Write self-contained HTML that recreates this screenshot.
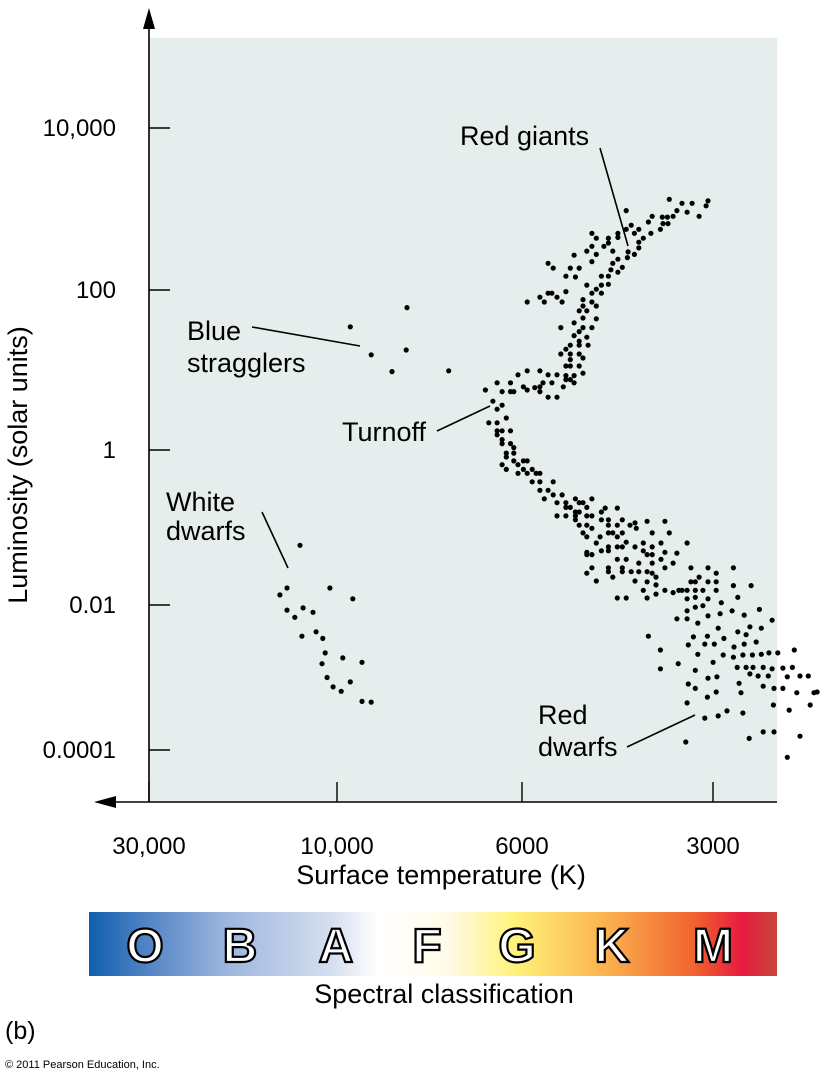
<!DOCTYPE html>
<html><head><meta charset="utf-8">
<style>
html,body{margin:0;padding:0;background:#fff;}
svg{display:block;font-family:"Liberation Sans",Arial,sans-serif;}
</style></head>
<body>
<svg id="chart" width="826" height="1080" viewBox="0 0 826 1080" xmlns="http://www.w3.org/2000/svg">
<defs>
<linearGradient id="specg" x1="0" x2="1" y1="0" y2="0">
<stop offset="0" stop-color="#0f5fae"/>
<stop offset="0.08" stop-color="#4f82c4"/>
<stop offset="0.2" stop-color="#9db6de"/>
<stop offset="0.35" stop-color="#d4deef"/>
<stop offset="0.42" stop-color="#ffffff"/>
<stop offset="0.52" stop-color="#fffbe8"/>
<stop offset="0.62" stop-color="#fff27a"/>
<stop offset="0.75" stop-color="#fbb24f"/>
<stop offset="0.88" stop-color="#f0632f"/>
<stop offset="0.95" stop-color="#e61a40"/>
<stop offset="1" stop-color="#c8473b"/>
</linearGradient>
</defs>
<rect x="149" y="38" width="628" height="764" fill="#e6eeed"/>
<g id="dots"></g>
<g id="axes"></g>

<text transform="translate(27,465) rotate(-90)" text-anchor="middle" font-size="27">Luminosity (solar units)</text>
<text x="441" y="884" text-anchor="middle" font-size="27">Surface temperature (K)</text>

<g>
<text x="460" y="145" font-size="27">Red giants</text>
<line x1="600" y1="148" x2="628" y2="246" stroke="#000" stroke-width="1.6"/>
</g>
<g>
<text x="187" y="340" font-size="27">Blue</text>
<text x="187" y="372" font-size="27">stragglers</text>
<line x1="252" y1="327" x2="360" y2="346" stroke="#000" stroke-width="1.6"/>
</g>
<g>
<text x="342" y="441" font-size="27">Turnoff</text>
<line x1="437" y1="431" x2="490" y2="406" stroke="#000" stroke-width="1.6"/>
</g>
<g>
<text x="166" y="511" font-size="27">White</text>
<text x="166" y="540" font-size="27">dwarfs</text>
<line x1="262" y1="512" x2="288" y2="568" stroke="#000" stroke-width="1.6"/>
</g>
<g>
<text x="538" y="724" font-size="27">Red</text>
<text x="538" y="756" font-size="27">dwarfs</text>
<line x1="627" y1="747" x2="695" y2="715" stroke="#000" stroke-width="1.6"/>
</g>

<g>
<rect x="89" y="912" width="688" height="64" fill="url(#specg)"/>
<g font-family="'Liberation Sans',Arial,sans-serif" font-weight="bold" font-size="48" fill="#fff" stroke="#000" stroke-width="2.2" text-anchor="middle">
<text x="145" y="962">O</text>
<text x="240" y="962">B</text>
<text x="336" y="962">A</text>
<text x="427" y="962">F</text>
<text x="517" y="962">G</text>
<text x="612" y="962">K</text>
<text x="713" y="962">M</text>
</g>
</g>
<text x="444" y="1003" text-anchor="middle" font-size="27">Spectral classification</text>
<text x="5" y="1039" font-size="25">(b)</text>
<text x="5" y="1068" font-size="11">© 2011 Pearson Education, Inc.</text>
</svg>
<script>
// Data: log10(Temperature K) and log10(Luminosity in solar units)
const xTickTemps = [30000, 10000, 6000, 3000];
const xTickLabels = ["30,000", "10,000", "6000", "3000"];
const yTickLums = [10000, 100, 1, 0.01, 0.0001];
const yTickLabels = ["10,000", "100", "1", "0.01", "0.0001"];

const logTemp = [
3.546,3.526,3.510,3.485,3.534,3.518,3.499,3.488,3.557,3.549,3.540,3.573,3.579,3.556,3.548,3.575,3.560,3.614,3.606,3.614,
3.601,3.594,3.587,3.594,3.594,3.601,3.611,3.612,3.627,3.627,3.642,3.642,3.649,3.668,3.661,3.676,3.668,3.661,3.696,3.668,
3.635,3.627,3.635,3.620,3.627,3.638,3.642,3.642,3.653,3.653,3.676,3.661,3.668,3.653,3.682,3.668,3.661,3.682,3.676,3.688,
3.682,3.661,3.696,3.717,3.682,3.668,3.688,3.696,3.676,3.688,3.688,3.674,3.702,3.709,3.717,3.702,3.688,3.682,3.702,3.709,
3.702,3.688,3.682,3.696,3.709,3.709,3.702,3.723,3.737,3.750,3.770,3.783,3.737,3.729,3.702,3.688,3.709,3.694,3.709,3.737,
3.731,3.723,3.715,3.750,3.743,3.770,3.696,3.713,3.731,3.745,3.750,3.758,3.770,3.776,3.792,3.808,3.792,3.788,3.802,3.750,
3.737,3.723,3.822,3.813,3.802,
3.808,3.797,3.818,3.808,3.808,3.802,3.792,3.808,3.802,3.802,3.792,3.788,3.788,3.797,3.797,3.788,3.776,3.770,3.802,3.797,
3.783,3.776,3.762,3.770,3.783,3.756,3.750,3.762,3.750,3.729,3.750,3.737,3.743,3.729,3.715,3.723,3.709,3.694,3.688,3.682,
3.668,3.709,3.702,3.723,3.709,3.694,3.688,3.676,3.653,3.647,3.628,3.694,3.676,3.668,3.694,3.688,3.676,3.653,3.642,3.642,
3.628,3.620,3.608,3.600,3.598,3.581,3.553,3.668,3.682,3.676,3.655,3.642,3.635,3.620,3.628,3.661,3.642,3.628,3.620,3.614,
3.600,3.587,3.573,3.559,3.546,3.653,3.642,3.676,3.676,3.668,3.628,3.614,3.587,3.573,3.581,3.573,3.553,3.559,3.594,3.573,
3.540,3.534,3.642,3.642,3.620,3.620,3.606,3.594,3.581,3.573,3.553,3.676,3.668,3.661,3.635,3.600,3.581,3.567,3.587,3.567,
3.553,3.540,3.628,3.614,3.581,3.567,3.531,
3.518,3.512,3.485,3.472,3.445,3.512,3.505,3.499,3.485,3.472,3.472,3.445,3.417,3.526,3.518,3.505,3.493,3.518,3.505,3.485,
3.464,3.438,3.518,3.505,3.493,3.466,3.447,3.428,3.404,3.384,3.534,3.518,3.501,3.485,3.469,3.438,3.419,3.401,3.508,3.486,
3.460,3.425,3.409,3.516,3.490,3.475,3.444,3.428,3.501,3.461,3.445,3.430,3.415,3.401,3.389,3.375,3.349,3.477,3.439,3.425,
3.414,3.398,3.384,3.367,3.352,3.505,3.419,3.406,3.390,3.360,3.340,3.327,3.485,3.471,3.436,3.398,3.381,3.367,3.516,3.505,
3.472,3.433,3.486,3.345,3.318,3.518,3.382,3.357,3.324,3.560,3.560,3.532,3.579,3.490,3.469,3.455,3.430,3.398,3.381,3.340,
3.420,3.520,3.360,3.313,
4.094,4.127,4.145,4.127,4.086,4.061,4.107,4.089,4.053,4.018,4.036,4.030,4.038,4.025,4.010,3.995,3.993,3.981,3.984,3.970,
3.970,3.959,
3.916,3.984,3.959,3.917,3.934,3.866
];
const logLum = [
3.12,3.07,3.07,3.10,2.98,2.96,2.91,3.04,2.90,2.90,2.91,2.91,2.84,2.82,2.82,2.70,2.75,2.98,2.80,2.75,
2.70,2.75,2.64,2.59,2.52,2.44,2.47,2.40,2.70,2.65,2.64,2.58,2.54,2.70,2.64,2.48,2.54,2.44,2.43,2.35,
2.48,2.38,2.33,2.28,2.22,2.25,2.17,2.07,2.17,2.06,2.06,2.01,1.96,1.96,1.88,1.85,1.80,1.80,1.74,1.74,
1.65,1.64,1.59,1.53,1.53,1.53,1.48,1.43,1.41,1.36,1.31,1.31,1.31,1.26,1.20,1.20,1.20,1.15,1.13,1.05,
1.05,1.05,0.96,0.93,0.93,0.88,0.88,0.94,0.94,0.99,0.99,0.94,2.33,2.27,2.27,2.27,2.17,2.16,1.98,1.96,
1.96,1.91,1.85,1.91,1.85,1.85,0.84,0.79,0.84,0.84,0.79,0.78,0.75,0.79,0.84,0.84,0.73,0.73,0.73,0.73,
0.66,0.66,0.75,0.61,0.56,
0.51,0.40,0.34,0.34,0.24,0.24,0.24,0.19,0.13,0.08,0.08,0.03,-0.04,-0.04,-0.09,-0.14,-0.14,-0.14,-0.19,-0.25,
-0.19,-0.25,-0.25,-0.30,-0.30,-0.30,-0.30,-0.41,-0.41,-0.41,-0.52,-0.52,-0.63,-0.58,-0.58,-0.68,-0.68,-0.63,-0.68,-0.68,
-0.63,-0.74,-0.74,-0.85,-0.85,-0.80,-0.80,-0.74,-0.80,-0.75,-0.75,-0.85,-0.85,-0.85,-0.90,-0.97,-0.97,-0.90,-0.90,-0.97,
-0.97,-0.90,-0.97,-0.94,-1.01,-0.92,-0.92,-1.01,-1.07,-1.12,-1.12,-1.07,-1.07,-1.07,-1.12,-1.20,-1.25,-1.25,-1.25,-1.19,
-1.25,-1.20,-1.07,-1.20,-1.07,-1.30,-1.30,-1.32,-1.35,-1.35,-1.41,-1.41,-1.30,-1.25,-1.35,-1.35,-1.32,-1.41,-1.46,-1.46,
-1.46,-1.33,-1.52,-1.57,-1.52,-1.57,-1.57,-1.57,-1.57,-1.59,-1.52,-1.59,-1.52,-1.69,-1.64,-1.69,-1.70,-1.64,-1.81,-1.74,
-1.81,-1.84,-1.91,-1.91,-1.91,-1.86,-1.81,
-1.20,-1.52,-1.52,-1.59,-1.52,-1.70,-1.70,-1.64,-1.70,-1.70,-1.81,-1.75,-1.75,-1.81,-1.81,-1.81,-1.81,-1.92,-1.90,-1.92,
-1.97,-1.90,-2.08,-2.03,-2.01,-2.12,-2.08,-2.14,-2.06,-2.21,-2.19,-2.19,-2.25,-2.15,-2.32,-2.37,-2.30,-2.32,-2.44,-2.43,
-2.46,-2.41,-2.51,-2.55,-2.54,-2.54,-2.58,-2.54,-2.68,-2.69,-2.72,-2.69,-2.69,-2.68,-2.66,-2.66,-2.62,-2.79,-2.86,-2.86,
-2.86,-2.86,-2.88,-2.87,-2.86,-2.90,-2.95,-2.98,-2.98,-2.99,-2.98,-2.98,-3.01,-2.99,-3.08,-3.12,-3.15,-3.15,-3.09,-3.15,
-3.20,-3.21,-3.27,-3.21,-3.21,-3.35,-3.38,-3.45,-3.38,-2.62,-2.88,-2.81,-2.43,-3.56,-3.53,-3.46,-3.49,-3.75,-3.75,-3.81,
-3.84,-3.89,-4.10,-3.20,
-1.23,-1.78,-1.87,-2.07,-2.04,-2.10,-2.17,-2.43,-2.37,-1.78,-2.46,-2.66,-2.81,-3.00,-3.13,-3.19,-2.73,-1.92,-3.06,-2.79,
-3.33,-3.34,
1.78,1.54,1.19,1.25,0.98,0.99
];

// Axis: piecewise-linear in log space through tick anchors
const xAnchorLog = [Math.log10(30000), 4, Math.log10(6000), Math.log10(3000)];
const xAnchorPx = [149, 337, 522, 713];
const yAnchorLog = [4, 2, 0, -2, -4];
const yAnchorPx = [128, 290, 450, 605, 750];
function interp(v, A, P) {
  let i = 0;
  if (v >= A[0]) i = 0;
  else if (v <= A[A.length-1]) i = A.length-2;
  else { for (i = 0; i < A.length-1; i++) if (v <= A[i] && v >= A[i+1]) break; }
  return P[i] + (v - A[i]) * (P[i+1]-P[i]) / (A[i+1]-A[i]);
}
function xScale(lt){ return interp(lt, xAnchorLog, xAnchorPx); }
function yScale(ll){ return interp(ll, yAnchorLog, yAnchorPx); }

const NS = "http://www.w3.org/2000/svg";
const dots = document.getElementById("dots");
for (let i = 0; i < logTemp.length; i++) {
  const c = document.createElementNS(NS, "circle");
  c.setAttribute("cx", xScale(logTemp[i]).toFixed(1));
  c.setAttribute("cy", yScale(logLum[i]).toFixed(1));
  c.setAttribute("r", "2.6");
  c.setAttribute("fill", "#000");
  
  
  dots.appendChild(c);
}

const axes = document.getElementById("axes");
function line(x1,y1,x2,y2,w){
  const l = document.createElementNS(NS,"line");
  l.setAttribute("x1",x1);l.setAttribute("y1",y1);l.setAttribute("x2",x2);l.setAttribute("y2",y2);
  l.setAttribute("stroke","#000");l.setAttribute("stroke-width",w);
  return l;
}
const yAxis = line(149,22,149,802,1.6);


axes.appendChild(yAxis);
const xAxis = line(110,802,777,802,1.6);


axes.appendChild(xAxis);
const upArrow = document.createElementNS(NS,"polygon");
upArrow.setAttribute("points","149,8 143,29 155,29");


axes.appendChild(upArrow);
const leftArrow = document.createElementNS(NS,"polygon");
leftArrow.setAttribute("points","94,802 116,796 116,808");


axes.appendChild(leftArrow);

for (let i = 0; i < yTickLums.length; i++) {
  const y = yScale(Math.log10(yTickLums[i]));
  const t = line(149,y,170,y,1.4);
  
  
  axes.appendChild(t);
  const tx = document.createElementNS(NS,"text");
  tx.setAttribute("x",116);tx.setAttribute("y",y+8);
  tx.setAttribute("text-anchor","end");tx.setAttribute("font-size","24");
  tx.textContent = yTickLabels[i];
  
  
  axes.appendChild(tx);
}
for (let i = 0; i < xTickTemps.length; i++) {
  const x = xScale(Math.log10(xTickTemps[i]));
  const t = line(x,782,x,802,1.4);
  
  
  axes.appendChild(t);
  const tx = document.createElementNS(NS,"text");
  tx.setAttribute("x",x);tx.setAttribute("y",854);
  tx.setAttribute("text-anchor","middle");tx.setAttribute("font-size","24");
  tx.textContent = xTickLabels[i];
  
  
  axes.appendChild(tx);
}
</script>
</body></html>
